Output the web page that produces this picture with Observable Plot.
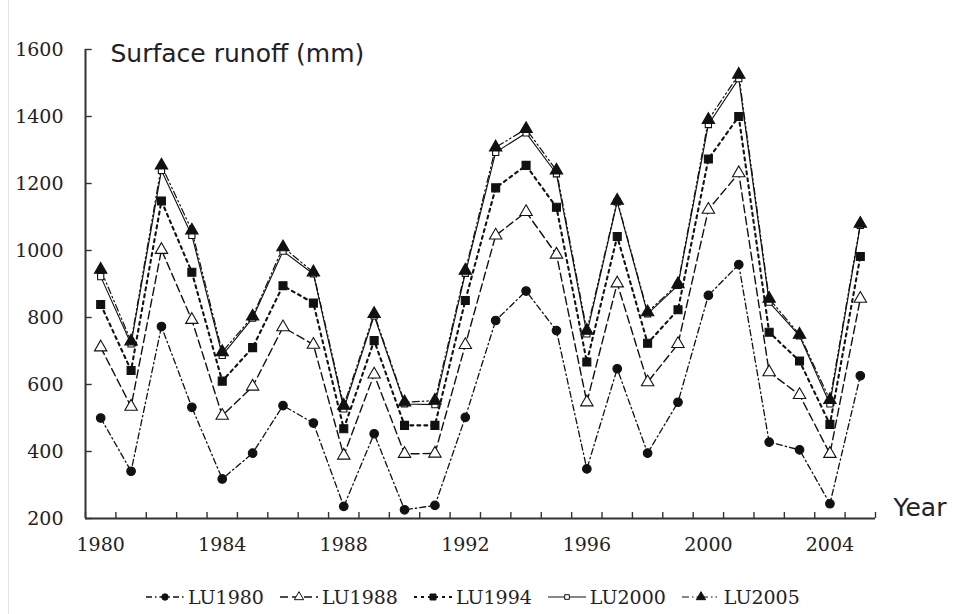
<!DOCTYPE html>
<html><head><meta charset="utf-8">
<script src="https://cdn.jsdelivr.net/npm/d3@7"></script>
<script src="https://cdn.jsdelivr.net/npm/@observablehq/plot@0.6"></script>
<style>
body{margin:0;background:#fff;width:955px;height:614px;overflow:hidden;position:relative}
#edge{position:absolute;left:8px;top:0;width:0;height:614px;border-left:1px solid #e4e4e4}
#chart{position:absolute;left:0;top:0}
#legend{position:absolute;left:145px;top:582px;height:30px;display:flex;align-items:center;font-family:"DejaVu Serif";font-size:19px;color:#222}
.item{display:flex;align-items:center;margin-right:15px}
.item svg{margin-right:3px}
</style></head><body>
<div id="edge"></div>
<div id="chart"></div>
<div id="legend"></div>
<script>
const years = [1980,1981,1982,1983,1984,1985,1986,1987,1988,1989,1990,1991,1992,1993,1994,1995,1996,1997,1998,1999,2000,2001,2002,2003,2004,2005];
const seriesNames = ["LU1980","LU1988","LU1994","LU2000","LU2005"];
const LU1980 = [500,341,773,532,318,395,537,485,236,453,226,239,502,791,879,761,348,647,395,547,866,958,428,405,244,626];
const LU1988 = [711,534,1002,793,507,594,771,719,388,630,393,394,718,1045,1115,988,547,902,607,721,1122,1231,637,569,393,856];
const LU1994 = [839,642,1148,935,610,710,895,843,468,731,478,478,851,1187,1254,1129,667,1042,723,823,1273,1400,756,670,481,982];
const LU2000 = [922,721,1239,1045,687,798,998,930,527,805,542,540,932,1293,1351,1229,751,1145,811,896,1376,1513,846,745,542,1075];
const LU2005 = [943,729,1254,1060,697,803,1010,935,537,811,547,552,940,1308,1363,1239,761,1149,816,900,1390,1525,856,749,554,1080];
const yTicks = [200,400,600,800,1000,1200,1400,1600];
const xLabels = [1980,1984,1988,1992,1996,2000,2004];
const yTitle = "Surface runoff (mm)";
const xTitle = "Year";

const values = {LU1980, LU1988, LU1994, LU2000, LU2005};
const rows = [];
for (const name of seriesNames) values[name].forEach((v, j) => rows.push({series: name, year: years[j], value: v}));

const look = {
  LU1980: {dash: "6,3,1.5,3", width: 1.3, symbol: "circle", r: 4.3, fill: "#111", stroke: "#111"},
  LU1988: {dash: "8,4", width: 1.4, symbol: "triangle", r: 4.6, fill: "#fff", stroke: "#111"},
  LU1994: {dash: "3,4", width: 2.1, symbol: "square", r: 4.5, fill: "#111", stroke: "#111"},
  LU2000: {dash: null, width: 1.1, symbol: "square", r: 3.5, fill: "#fff", stroke: "#111"},
  LU2005: {dash: "7,3,1.5,3,1.5,3", width: 1.2, symbol: "triangle", r: 4.6, fill: "#111", stroke: "#111"}
};

const boundaries = d3.range(1979.5, 2006, 1);
const lineMarks = seriesNames.map(name => Plot.line(rows.filter(d => d.series === name), {
  x: "year", y: "value", stroke: "#111", strokeWidth: look[name].width,
  strokeDasharray: look[name].dash || undefined
}));
const dotMarks = seriesNames.map(name => Plot.dot(rows.filter(d => d.series === name), {
  x: "year", y: "value", symbol: () => look[name].symbol, r: look[name].r,
  fill: look[name].fill, stroke: look[name].stroke, strokeWidth: 1.1
}));

const chart = Plot.plot({
  width: 955, height: 580,
  marginLeft: 85, marginRight: 80, marginTop: 49, marginBottom: 62,
  style: {fontFamily: "DejaVu Serif", fontSize: "19px", color: "#222", background: "none"},
  x: {domain: [1979.5, 2005.5], axis: null},
  y: {domain: [200, 1600], axis: null},
  symbol: {type: "identity"},
  marks: [
    Plot.ruleX(boundaries, {x: d => d, y1: 200, y2: 218, stroke: "#333", strokeWidth: 1.4}),
    Plot.ruleY(yTicks, {y: d => d, x1: 1979.5, x2: 1979.72, stroke: "#333", strokeWidth: 1.4}),
    Plot.ruleX([1979.5], {y1: 200, y2: 1600, stroke: "#333", strokeWidth: 2}),
    Plot.ruleY([200], {x1: 1979.5, x2: 2005.5, stroke: "#333", strokeWidth: 2}),
    Plot.axisY({ticks: yTicks, tickSize: 0, tickPadding: 22, label: null, tickFormat: d => String(d), fill: "#222"}),
    Plot.axisX({ticks: xLabels, tickSize: 0, tickPadding: 19, label: null, tickFormat: d => String(d), fill: "#222"}),
    ...lineMarks,
    ...dotMarks,
    Plot.text([yTitle], {text: d => d, frameAnchor: "top-left", dx: 25, dy: 4, textAnchor: "start", lineAnchor: "middle", fontFamily: "DejaVu Sans", fontSize: 25, fill: "#222"}),
    Plot.text([xTitle], {text: d => d, frameAnchor: "bottom-right", dx: 18, dy: -11, textAnchor: "start", lineAnchor: "middle", fontFamily: "DejaVu Sans", fontSize: 25, fill: "#222"})
  ]
});
document.getElementById("chart").appendChild(chart);

const legend = document.getElementById("legend");
for (const name of seriesNames) {
  const L = look[name];
  const item = document.createElement("div");
  item.className = "item";
  const svg = d3.create("svg").attr("width", 40).attr("height", 20);
  svg.append("line").attr("x1", 1).attr("x2", 39).attr("y1", 10).attr("y2", 10)
    .attr("stroke", "#111").attr("stroke-width", L.width).attr("stroke-dasharray", L.dash);
  const sym = {circle: d3.symbolCircle, triangle: d3.symbolTriangle, square: d3.symbolSquare}[L.symbol];
  svg.append("path").attr("transform", "translate(20,10)")
    .attr("d", d3.symbol(sym, Math.PI * (L.r * 0.75) ** 2)())
    .attr("fill", L.fill).attr("stroke", L.stroke).attr("stroke-width", 1);
  item.appendChild(svg.node());
  const span = document.createElement("span");
  span.textContent = name;
  item.appendChild(span);
  legend.appendChild(item);
}
</script>
</body></html>
